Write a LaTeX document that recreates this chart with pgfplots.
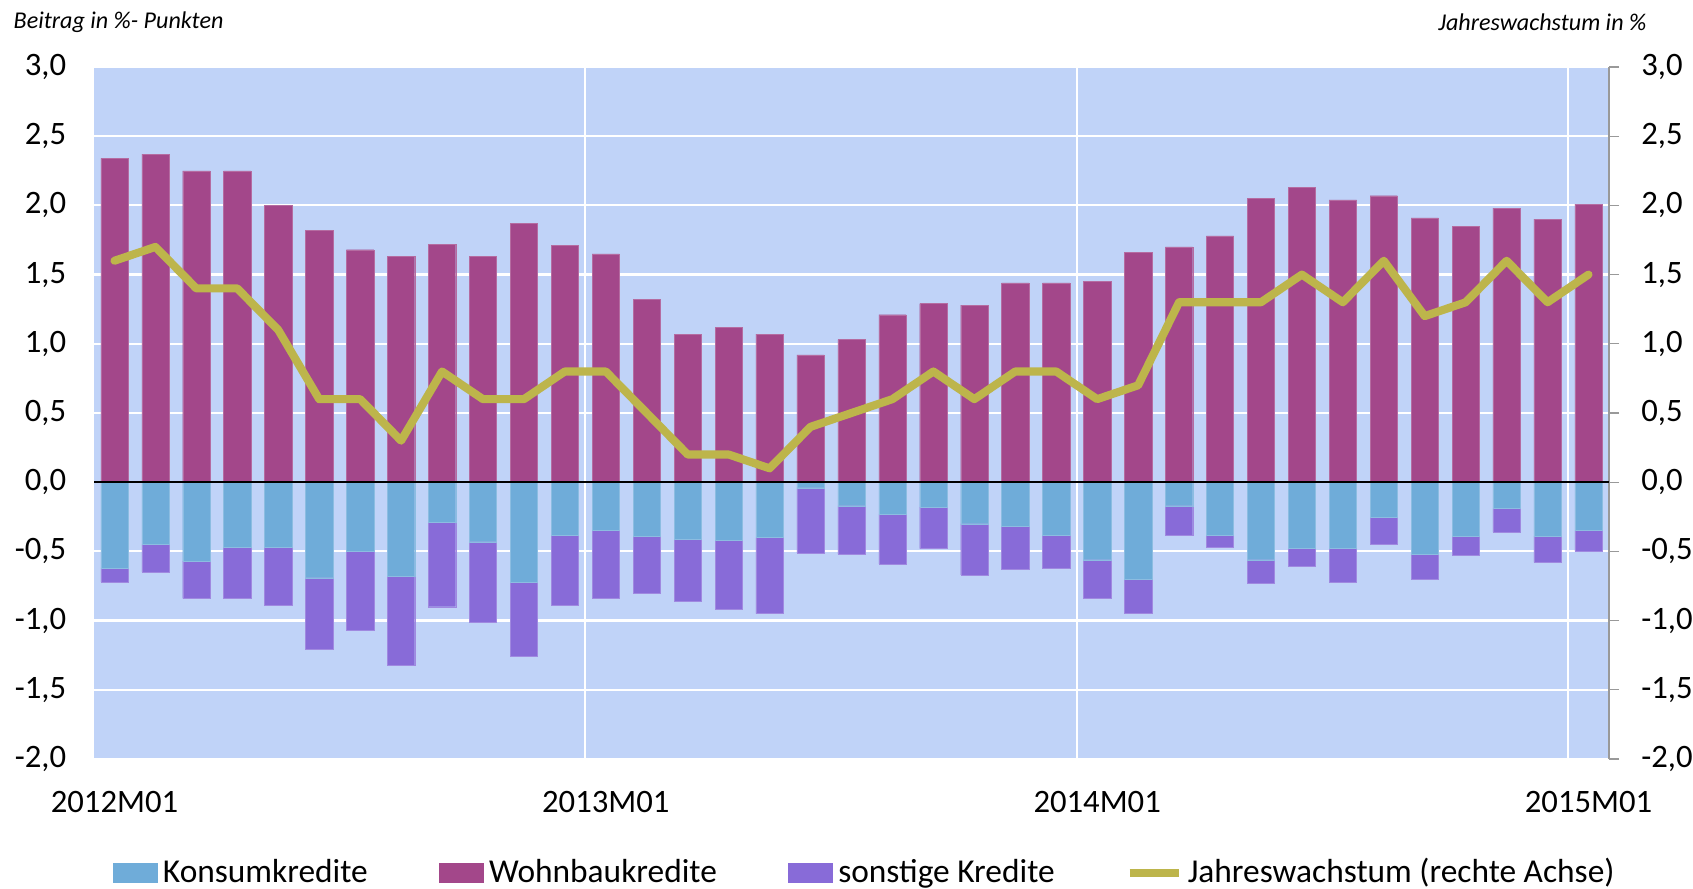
\documentclass[border=0pt]{standalone}
\usepackage{pgfplots}
\pgfplotsset{compat=1.18}
\usepackage{pgfplotstable}
\usepackage{fontspec}
\setmainfont{Carlito}
\definecolor{bg}{HTML}{C0D3F8}
\definecolor{konsum}{HTML}{6FACD9}
\definecolor{wohn}{HTML}{A3478A}
\definecolor{sonst}{HTML}{886BD8}
\definecolor{jw}{HTML}{BDB54B}

\pgfplotstableread{
x    k     w     s     j
0.5  -0.62 2.34 -0.10 1.6
1.5  -0.45 2.37 -0.20 1.7
2.5  -0.57 2.25 -0.27 1.4
3.5  -0.47 2.25 -0.37 1.4
4.5  -0.47 2.00 -0.42 1.1
5.5  -0.69 1.82 -0.52 0.6
6.5  -0.50 1.68 -0.57 0.6
7.5  -0.68 1.63 -0.64 0.3
8.5  -0.29 1.72 -0.61 0.8
9.5  -0.43 1.63 -0.58 0.6
10.5 -0.72 1.87 -0.54 0.6
11.5 -0.38 1.71 -0.51 0.8
12.5 -0.35 1.65 -0.49 0.8
13.5 -0.39 1.32 -0.41 0.5
14.5 -0.41 1.07 -0.45 0.2
15.5 -0.42 1.12 -0.50 0.2
16.5 -0.40 1.07 -0.55 0.1
17.5 -0.04 0.92 -0.47 0.4
18.5 -0.17 1.03 -0.35 0.5
19.5 -0.23 1.21 -0.36 0.6
20.5 -0.18 1.29 -0.30 0.8
21.5 -0.30 1.28 -0.37 0.6
22.5 -0.32 1.44 -0.31 0.8
23.5 -0.38 1.44 -0.24 0.8
24.5 -0.56 1.45 -0.28 0.6
25.5 -0.70 1.66 -0.25 0.7
26.5 -0.17 1.70 -0.21 1.3
27.5 -0.38 1.78 -0.09 1.3
28.5 -0.56 2.05 -0.17 1.3
29.5 -0.48 2.13 -0.13 1.5
30.5 -0.48 2.04 -0.24 1.3
31.5 -0.25 2.07 -0.20 1.6
32.5 -0.52 1.91 -0.18 1.2
33.5 -0.39 1.85 -0.14 1.3
34.5 -0.19 1.98 -0.17 1.6
35.5 -0.39 1.90 -0.19 1.3
36.5 -0.35 2.01 -0.15 1.5
}\data

\pgfplotsset{
  base/.style={
    at={(9.4mm,13.0mm)}, anchor=south west, scale only axis,
    width=151.5mm, height=69.2mm,
    xmin=0, xmax=37, ymin=-2, ymax=3,
    ytick={-2,-1.5,-1,-0.5,0,0.5,1,1.5,2,2.5,3},
    /pgf/number format/assume math mode=true,
    yticklabel style={/pgf/number format/fixed, /pgf/number format/fixed zerofill,
      /pgf/number format/precision=1, /pgf/number format/use comma},
    tick label style={font=\fontsize{9.3}{11}\selectfont},
  }
}

\begin{document}
\begin{tikzpicture}
\path[use as bounding box] (0,0) rectangle (169.3mm,88.9mm);

\begin{axis}[base,
  axis background/.style={fill=bg},
  axis line style={draw=none},
  major tick length=0pt,
  ymajorgrids,
  grid style={white, line width=0.22mm},
  xtick={0.5,12.5,24.5,36.5},
  xticklabels={2012M01,2013M01,2014M01,2015M01},
  extra x ticks={12,24,36},
  extra x tick labels={},
  extra x tick style={grid=major, major tick length=0pt},
  xticklabel style={yshift=-1.95mm},
  yticklabel style={xshift=-1.55mm},
  ybar, bar width=2.73mm, bar shift=0pt,
]
\addplot[fill=wohn, draw=wohn!80!white, line width=0.1pt] table[x=x,y=w]{\data};
\end{axis}

\begin{axis}[base, hide axis, ybar stacked, bar width=2.73mm]
\addplot[fill=konsum, draw=konsum!80!white, line width=0.1pt] table[x=x,y=k]{\data};
\addplot[fill=sonst, draw=sonst!80!white, line width=0.1pt] table[x=x,y=s]{\data};
\end{axis}

\begin{axis}[base,
  axis x line=none, axis y line*=right,
  y axis line style={draw=gray!80, line width=0.3pt},
  ytick style={draw=gray!80, line width=0.3pt},
  tick align=outside, major tick length=1mm,
  yticklabel style={xshift=1.0mm},
  legend columns=4,
  legend style={draw=none, fill=none, at={(0.5096,-0.165)}, anchor=center,
    font=\fontsize{9.5}{11}\selectfont,
    /tikz/every even column/.append style={column sep=6.6mm},
    nodes={inner xsep=0.5mm, inner ysep=0.5mm}},
  legend cell align=left,
]
\addplot[black, line width=0.55pt, forget plot] coordinates {(0,0) (37,0)};
\addplot[jw, line width=2.3pt, line join=round, line cap=round, mark=none, forget plot] table[x=x,y=j]{\data};
\addlegendimage{legend image code/.code={\fill[konsum] (0mm,-0.9mm) rectangle (4.4mm,0.9mm);}}
\addlegendentry{Konsumkredite}
\addlegendimage{legend image code/.code={\fill[wohn] (0mm,-0.9mm) rectangle (4.4mm,0.9mm);}}
\addlegendentry{Wohnbaukredite}
\addlegendimage{legend image code/.code={\fill[sonst] (0mm,-0.9mm) rectangle (4.4mm,0.9mm);}}
\addlegendentry{sonstige Kredite}
\addlegendimage{legend image code/.code={\draw[jw, line width=2.3pt] (0mm,0mm) -- (4.9mm,0mm);}}
\addlegendentry{Jahreswachstum (rechte Achse)}
\end{axis}

\node[anchor=west, font=\itshape\fontsize{6.85}{9}\selectfont, inner sep=0pt] at (1.3mm,86.7mm) {Beitrag in \%- Punkten};
\node[anchor=east, font=\itshape\fontsize{6.85}{9}\selectfont, inner sep=0pt] at (164.7mm,86.7mm) {Jahreswachstum in \%};
\end{tikzpicture}
\end{document}
